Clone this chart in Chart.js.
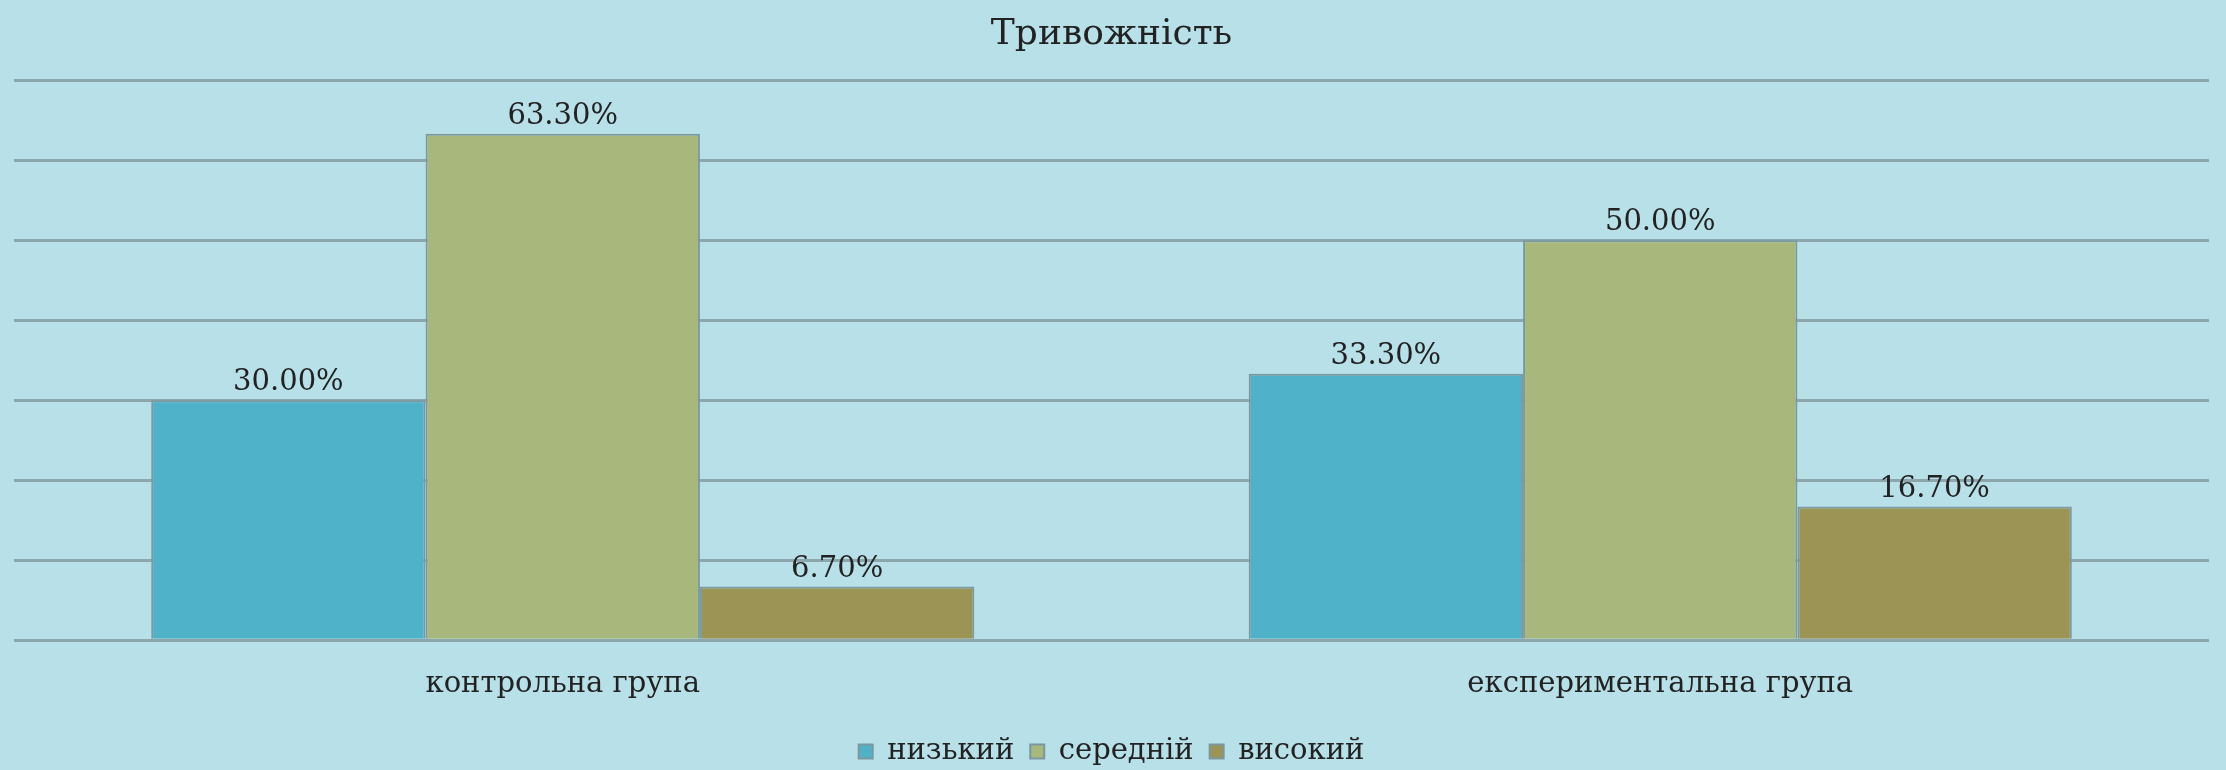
<!DOCTYPE html>
<html>
<head>
<meta charset="utf-8">
<script src="https://cdn.jsdelivr.net/npm/chart.js@4/dist/chart.umd.min.js"></script>
<style>
  body { margin: 0; background: #b8e0e8; }
  #wrap { width: 2226px; height: 770px; }
</style>
</head>
<body>
<div id="wrap"><canvas id="anxietyChart"></canvas></div>
<script>
// categories and series (percent)
const groups = ['контрольна група', 'експериментальна група'];
const lowValues = [30.0, 33.3];
const midValues = [63.3, 50.0];
const highValues = [6.7, 16.7];
const seriesNames = ['низький', 'середній', 'високий'];

// value labels above each bar
const barLabels = {
    id: 'barLabels',
    afterDatasetsDraw(chart) {
        const c = chart.ctx;
        c.save();
        c.font = '29px "DejaVu Serif"';
        c.fillStyle = '#222';
        c.textAlign = 'center';
        c.textBaseline = 'bottom';
        chart.data.datasets.forEach((ds, i) => {
            chart.getDatasetMeta(i).data.forEach((bar, j) => {
                c.fillText(ds.data[j].toFixed(2) + '%', bar.x, bar.y - 3);
            });
        });
        c.restore();
    }
};

const ctx = document.getElementById('anxietyChart').getContext('2d');
const anxietyChart = new Chart(ctx, {
    type: 'bar',
    data: {
        labels: groups,
        datasets: [{
            label: seriesNames[0],
            data: lowValues,
            backgroundColor: '#4fb2c8',
            borderColor: '#7b98a0',
            borderWidth: 2
        }, {
            label: seriesNames[1],
            data: midValues,
            backgroundColor: '#a8b87d',
            borderColor: '#7b98a0',
            borderWidth: 2
        }, {
            label: seriesNames[2],
            data: highValues,
            backgroundColor: '#9b9454',
            borderColor: '#7b98a0',
            borderWidth: 2
        }]
    },
    options: {
        responsive: true,
        maintainAspectRatio: false,
        animation: false,
        layout: { padding: { left: 14, right: 17, top: 0, bottom: -6 } },
        datasets: { bar: { categoryPercentage: 0.75, barPercentage: 1.0 } },
        scales: {
            x: {
                grid: { display: false },
                border: { display: false },
                ticks: {
                    color: '#222',
                    padding: 19,
                    font: { family: 'DejaVu Serif', size: 29 }
                }
            },
            y: {
                min: 0,
                max: 70,
                ticks: { display: false, stepSize: 10 },
                border: { display: false },
                grid: { color: '#8ca6ac', lineWidth: 3, drawTicks: false }
            }
        },
        plugins: {
            title: {
                display: true,
                text: 'Тривожність',
                color: '#222',
                font: { family: 'DejaVu Serif', size: 36, weight: 'normal' },
                padding: { top: 13, bottom: 24 }
            },
            legend: {
                position: 'bottom',
                labels: {
                    color: '#222',
                    boxWidth: 14,
                    boxHeight: 14,
                    padding: 16,
                    font: { family: 'DejaVu Serif', size: 29 }
                }
            },
            tooltip: { enabled: false }
        }
    },
    plugins: [barLabels]
});
</script>
</body>
</html>
